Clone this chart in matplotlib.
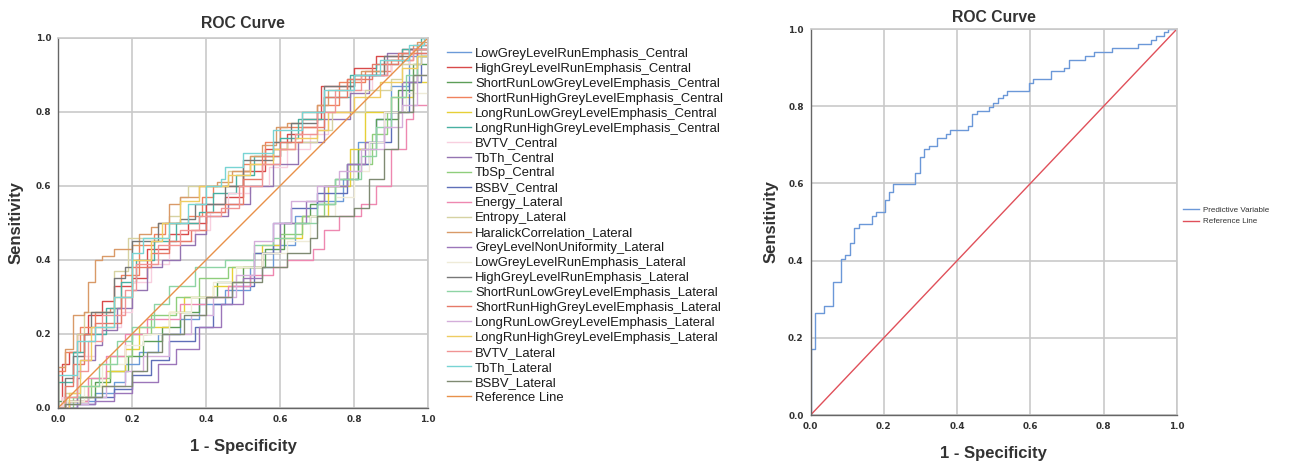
import numpy as np
import matplotlib
matplotlib.use("Agg")
import matplotlib.pyplot as plt

plt.rcParams['font.family'] = ['Liberation Sans', 'DejaVu Sans']

# ROC step points (1 - specificity, sensitivity), left chart
roc_lgre_c = [(0, 0), (0.02, 0.01), (0.05, 0.02), (0.10, 0.04), (0.15, 0.07), (0.18, 0.12), (0.22, 0.15), (0.27, 0.20),
              (0.33, 0.24), (0.38, 0.28), (0.45, 0.32), (0.52, 0.38), (0.58, 0.44), (0.64, 0.52), (0.70, 0.56),
              (0.77, 0.62), (0.81, 0.72), (0.86, 0.78), (0.90, 0.87), (0.95, 0.95), (0.97, 0.98), (1, 1)]
roc_hgre_c = [(0, 0), (0.01, 0.12), (0.03, 0.15), (0.05, 0.20), (0.08, 0.25), (0.12, 0.29), (0.15, 0.33), (0.20, 0.35),
              (0.24, 0.43), (0.30, 0.47), (0.35, 0.50), (0.40, 0.55), (0.45, 0.57), (0.50, 0.64), (0.56, 0.70),
              (0.62, 0.74), (0.66, 0.78), (0.71, 0.87), (0.80, 0.92), (0.86, 0.95), (0.93, 0.97), (1, 1)]
roc_srlge_c = [(0, 0), (0, 0.02), (0.05, 0.03), (0.10, 0.07), (0.14, 0.10), (0.19, 0.14), (0.23, 0.18), (0.28, 0.22),
               (0.33, 0.26), (0.38, 0.30), (0.43, 0.34), (0.50, 0.38), (0.56, 0.43), (0.61, 0.50), (0.68, 0.55),
               (0.75, 0.62), (0.81, 0.70), (0.86, 0.78), (0.92, 0.86), (0.96, 0.93), (1, 1)]
roc_srhge_c = [(0, 0), (0, 0.10), (0.02, 0.15), (0.06, 0.22), (0.10, 0.26), (0.14, 0.27), (0.17, 0.36), (0.22, 0.44),
               (0.26, 0.47), (0.29, 0.50), (0.35, 0.52), (0.39, 0.57), (0.42, 0.60), (0.50, 0.66), (0.56, 0.72),
               (0.60, 0.76), (0.70, 0.82), (0.76, 0.88), (0.83, 0.91), (0.90, 0.94), (0.96, 0.98), (1, 1)]
roc_lrlge_c = [(0, 0), (0.03, 0.02), (0.08, 0.06), (0.13, 0.10), (0.18, 0.16), (0.22, 0.22), (0.30, 0.26), (0.34, 0.30),
               (0.42, 0.33), (0.47, 0.38), (0.55, 0.44), (0.60, 0.46), (0.66, 0.52), (0.73, 0.60), (0.79, 0.70),
               (0.83, 0.80), (0.90, 0.84), (0.96, 0.88), (1, 0.90), (1, 1)]
roc_lrhge_c = [(0, 0), (0, 0.07), (0.04, 0.15), (0.07, 0.20), (0.13, 0.27), (0.17, 0.34), (0.21, 0.40), (0.26, 0.45),
               (0.32, 0.50), (0.38, 0.53), (0.42, 0.58), (0.48, 0.63), (0.53, 0.68), (0.60, 0.73), (0.65, 0.78),
               (0.72, 0.84), (0.79, 0.90), (0.86, 0.93), (0.93, 0.97), (0.98, 1), (1, 1)]
roc_bvtv_c = [(0, 0), (0.01, 0.03), (0.05, 0.14), (0.10, 0.22), (0.17, 0.26), (0.20, 0.34), (0.25, 0.39), (0.30, 0.45),
              (0.37, 0.48), (0.41, 0.53), (0.46, 0.58), (0.52, 0.60), (0.57, 0.65), (0.62, 0.70), (0.68, 0.74),
              (0.73, 0.80), (0.79, 0.86), (0.85, 0.90), (0.90, 0.93), (0.95, 0.97), (1, 1)]
roc_tbth_c = [(0, 0), (0.03, 0.02), (0.05, 0.08), (0.06, 0.13), (0.10, 0.17), (0.12, 0.21), (0.16, 0.27), (0.20, 0.32),
              (0.24, 0.38), (0.28, 0.40), (0.33, 0.44), (0.37, 0.47), (0.40, 0.52), (0.46, 0.55), (0.52, 0.60),
              (0.58, 0.66), (0.65, 0.72), (0.72, 0.78), (0.79, 0.85), (0.84, 0.90), (0.89, 0.96), (0.95, 0.97), (1, 1)]
roc_tbsp_c = [(0, 0), (0.04, 0.03), (0.09, 0.08), (0.14, 0.14), (0.20, 0.20), (0.25, 0.25), (0.32, 0.30), (0.38, 0.35),
              (0.46, 0.38), (0.53, 0.42), (0.60, 0.47), (0.66, 0.52), (0.72, 0.60), (0.78, 0.66), (0.85, 0.74),
              (0.89, 0.80), (0.93, 0.88), (0.97, 0.95), (1, 1)]
roc_bsbv_c = [(0, 0), (0.05, 0.01), (0.10, 0.03), (0.15, 0.05), (0.20, 0.09), (0.25, 0.13), (0.30, 0.18), (0.37, 0.22),
              (0.42, 0.28), (0.47, 0.33), (0.53, 0.42), (0.58, 0.50), (0.63, 0.54), (0.70, 0.58), (0.78, 0.66),
              (0.84, 0.72), (0.90, 0.80), (0.95, 0.88), (0.98, 0.95), (1, 1)]
roc_energy_l = [(0, 0), (0.03, 0.02), (0.08, 0.08), (0.13, 0.14), (0.18, 0.20), (0.24, 0.24), (0.33, 0.28), (0.40, 0.30),
                (0.46, 0.33), (0.52, 0.36), (0.58, 0.38), (0.62, 0.40), (0.69, 0.43), (0.72, 0.48), (0.76, 0.52),
                (0.82, 0.55), (0.86, 0.60), (0.90, 0.70), (0.94, 0.78), (0.96, 0.82), (1, 1)]
roc_entropy_l = [(0, 0), (0.02, 0.04), (0.05, 0.20), (0.07, 0.26), (0.15, 0.37), (0.19, 0.46), (0.30, 0.52), (0.33, 0.57),
                 (0.35, 0.60), (0.46, 0.64), (0.52, 0.68), (0.58, 0.70), (0.62, 0.72), (0.70, 0.75), (0.74, 0.80),
                 (0.83, 0.86), (0.90, 0.89), (0.93, 0.93), (0.98, 0.97), (1, 1)]
roc_haralick_l = [(0, 0), (0, 0.11), (0.02, 0.16), (0.04, 0.25), (0.07, 0.26), (0.08, 0.34), (0.10, 0.40), (0.12, 0.41),
                  (0.15, 0.43), (0.20, 0.44), (0.22, 0.47), (0.25, 0.49), (0.27, 0.50), (0.30, 0.55), (0.33, 0.57),
                  (0.38, 0.60), (0.43, 0.61), (0.47, 0.64), (0.52, 0.68), (0.55, 0.71), (0.59, 0.76), (0.62, 0.77),
                  (0.66, 0.80), (0.70, 0.82), (0.73, 0.86), (0.78, 0.89), (0.82, 0.91), (0.88, 0.94), (0.93, 0.96),
                  (0.97, 0.99), (1, 1)]
roc_glnu_l = [(0, 0), (0.05, 0.01), (0.10, 0.02), (0.15, 0.04), (0.20, 0.07), (0.27, 0.12), (0.32, 0.16), (0.38, 0.22),
              (0.44, 0.28), (0.50, 0.35), (0.55, 0.42), (0.60, 0.50), (0.67, 0.56), (0.72, 0.60), (0.78, 0.66),
              (0.83, 0.72), (0.88, 0.80), (0.93, 0.88), (0.97, 0.96), (1, 1)]
roc_lgre_l = [(0, 0), (0.02, 0.02), (0.07, 0.06), (0.12, 0.12), (0.18, 0.17), (0.23, 0.20), (0.30, 0.26), (0.36, 0.30),
              (0.42, 0.34), (0.48, 0.38), (0.55, 0.42), (0.62, 0.45), (0.68, 0.52), (0.75, 0.57), (0.80, 0.64),
              (0.84, 0.72), (0.88, 0.80), (0.94, 0.85), (1, 1)]
roc_hgre_l = [(0, 0), (0.02, 0.08), (0.04, 0.14), (0.07, 0.20), (0.09, 0.26), (0.15, 0.35), (0.18, 0.38), (0.20, 0.45),
              (0.27, 0.50), (0.33, 0.51), (0.37, 0.55), (0.45, 0.60), (0.50, 0.67), (0.58, 0.72), (0.63, 0.77),
              (0.70, 0.80), (0.72, 0.87), (0.80, 0.90), (0.88, 0.95), (0.95, 0.97), (1, 1)]
roc_srlge_l = [(0, 0), (0.02, 0.03), (0.06, 0.06), (0.11, 0.12), (0.16, 0.18), (0.20, 0.22), (0.26, 0.28), (0.30, 0.33),
               (0.37, 0.38), (0.45, 0.40), (0.53, 0.44), (0.58, 0.46), (0.64, 0.50), (0.70, 0.55), (0.75, 0.62),
               (0.82, 0.68), (0.86, 0.76), (0.90, 0.84), (0.94, 0.90), (0.97, 0.95), (1, 1)]
roc_srhge_l = [(0, 0), (0.02, 0.06), (0.04, 0.12), (0.07, 0.20), (0.10, 0.23), (0.17, 0.30), (0.20, 0.38), (0.25, 0.42),
               (0.30, 0.45), (0.36, 0.48), (0.40, 0.53), (0.45, 0.55), (0.50, 0.62), (0.55, 0.68), (0.60, 0.72),
               (0.66, 0.76), (0.72, 0.84), (0.78, 0.89), (0.85, 0.93), (0.92, 0.96), (1, 1)]
roc_lrlge_l = [(0, 0), (0.03, 0.01), (0.08, 0.03), (0.13, 0.06), (0.18, 0.10), (0.23, 0.14), (0.30, 0.20), (0.36, 0.25),
               (0.42, 0.30), (0.48, 0.36), (0.53, 0.45), (0.58, 0.50), (0.63, 0.56), (0.70, 0.60), (0.76, 0.64),
               (0.82, 0.70), (0.88, 0.76), (0.93, 0.82), (0.97, 0.90), (1, 1)]
roc_lrhge_l = [(0, 0), (0.03, 0.04), (0.06, 0.13), (0.09, 0.22), (0.15, 0.30), (0.20, 0.40), (0.25, 0.45), (0.28, 0.50),
               (0.33, 0.56), (0.38, 0.60), (0.46, 0.63), (0.52, 0.66), (0.58, 0.70), (0.64, 0.73), (0.70, 0.75),
               (0.73, 0.80), (0.80, 0.84), (0.87, 0.88), (0.93, 0.92), (0.97, 0.95), (1, 1)]
roc_bvtv_l = [(0, 0), (0.02, 0.03), (0.05, 0.10), (0.08, 0.18), (0.12, 0.25), (0.18, 0.32), (0.21, 0.39), (0.27, 0.44),
              (0.33, 0.48), (0.38, 0.52), (0.44, 0.54), (0.49, 0.60), (0.55, 0.66), (0.60, 0.70), (0.64, 0.74),
              (0.70, 0.80), (0.75, 0.86), (0.82, 0.90), (0.89, 0.94), (0.96, 0.97), (1, 1)]
roc_tbth_l = [(0, 0), (0, 0.09), (0.05, 0.18), (0.10, 0.22), (0.15, 0.30), (0.20, 0.42), (0.23, 0.46), (0.30, 0.50),
              (0.35, 0.55), (0.40, 0.60), (0.44, 0.62), (0.45, 0.65), (0.50, 0.69), (0.58, 0.75), (0.66, 0.80),
              (0.72, 0.86), (0.80, 0.90), (0.87, 0.94), (0.95, 0.98), (0.99, 1), (1, 1)]
roc_bsbv_l = [(0, 0), (0.02, 0.01), (0.06, 0.03), (0.12, 0.06), (0.20, 0.10), (0.24, 0.15), (0.28, 0.20), (0.34, 0.25),
              (0.40, 0.30), (0.47, 0.34), (0.55, 0.38), (0.62, 0.42), (0.68, 0.46), (0.70, 0.52), (0.80, 0.54),
              (0.84, 0.62), (0.88, 0.70), (0.92, 0.80), (0.96, 0.90), (1, 0.95), (1, 1)]
ref_line = [(0, 0), (1, 1)]

curve_data = [roc_lgre_c, roc_hgre_c, roc_srlge_c, roc_srhge_c, roc_lrlge_c, roc_lrhge_c, roc_bvtv_c, roc_tbth_c,
              roc_tbsp_c, roc_bsbv_c, roc_energy_l, roc_entropy_l, roc_haralick_l, roc_glnu_l, roc_lgre_l,
              roc_hgre_l, roc_srlge_l, roc_srhge_l, roc_lrlge_l, roc_lrhge_l, roc_bvtv_l, roc_tbth_l, roc_bsbv_l]
curve_names = ['LowGreyLevelRunEmphasis_Central', 'HighGreyLevelRunEmphasis_Central',
               'ShortRunLowGreyLevelEmphasis_Central', 'ShortRunHighGreyLevelEmphasis_Central',
               'LongRunLowGreyLevelEmphasis_Central', 'LongRunHighGreyLevelEmphasis_Central',
               'BVTV_Central', 'TbTh_Central', 'TbSp_Central', 'BSBV_Central', 'Energy_Lateral', 'Entropy_Lateral',
               'HaralickCorrelation_Lateral', 'GreyLevelNonUniformity_Lateral', 'LowGreyLevelRunEmphasis_Lateral',
               'HighGreyLevelRunEmphasis_Lateral', 'ShortRunLowGreyLevelEmphasis_Lateral',
               'ShortRunHighGreyLevelEmphasis_Lateral', 'LongRunLowGreyLevelEmphasis_Lateral',
               'LongRunHighGreyLevelEmphasis_Lateral', 'BVTV_Lateral', 'TbTh_Lateral', 'BSBV_Lateral']
curve_colors = ['#6b9ad8', '#d84a4a', '#5c9e58', '#f0825e', '#e6d036', '#48b0a2', '#f8cfdf', '#9474b2',
                '#8fce7c', '#5f6fb8', '#ee88b0', '#d6d2a2', '#d99a68', '#9c76ba', '#efebd8', '#777777',
                '#8ed4a4', '#e67a68', '#d4aeda', '#efcc62', '#f09494', '#78d4d4', '#7f8a72']
ref_color = '#e8914a'

# right chart: single predictive variable
roc_pred = [(0, 0), (0, 0.171), (0.012, 0.263), (0.036, 0.283), (0.06, 0.344), (0.083, 0.404), (0.095, 0.415),
            (0.107, 0.445), (0.119, 0.485), (0.132, 0.496), (0.167, 0.516), (0.179, 0.526), (0.203, 0.557),
            (0.215, 0.577), (0.226, 0.598), (0.286, 0.628), (0.298, 0.669), (0.31, 0.688), (0.322, 0.698),
            (0.346, 0.718), (0.369, 0.728), (0.38, 0.739), (0.429, 0.749), (0.441, 0.779), (0.454, 0.788),
            (0.488, 0.799), (0.499, 0.809), (0.512, 0.82), (0.524, 0.829), (0.535, 0.839), (0.596, 0.859),
            (0.607, 0.87), (0.655, 0.89), (0.692, 0.9), (0.705, 0.92), (0.75, 0.93), (0.775, 0.94), (0.822, 0.95),
            (0.894, 0.961), (0.93, 0.971), (0.942, 0.981), (0.965, 0.991), (0.977, 1.0), (1.0, 1.0)]
ticks = [0.0, 0.2, 0.4, 0.6, 0.8, 1.0]

text_col = '#333333'
grid_col = '#c9c9c9'


def style_axes(ax, ylab_x, xlab_y, title_pad):
    ax.set_xlim(0, 1)
    ax.set_ylim(0, 1)
    ax.set_xticks(ticks)
    ax.set_yticks(ticks)
    ax.set_xticklabels(['%.1f' % t for t in ticks])
    ax.set_yticklabels(['%.1f' % t for t in ticks])
    ax.grid(True, color=grid_col, lw=1.2)
    ax.set_axisbelow(True)
    ax.tick_params(length=0, labelsize=6.4, labelcolor=text_col, pad=5)
    for lab in ax.get_xticklabels() + ax.get_yticklabels():
        lab.set_fontweight('bold')
        lab.set_family('DejaVu Sans')
    for s in ['top', 'right']:
        ax.spines[s].set_color(grid_col)
        ax.spines[s].set_linewidth(1.2)
    for s in ['left', 'bottom']:
        ax.spines[s].set_color('#666666')
        ax.spines[s].set_linewidth(1.0)
    ax.set_title('ROC Curve', fontsize=11.3, fontweight='bold', color=text_col, pad=title_pad)
    ax.set_xlabel('1 - Specificity', fontsize=12, fontweight='bold', color=text_col)
    ax.set_ylabel('Sensitivity', fontsize=12, fontweight='bold', color=text_col)
    ax.xaxis.set_label_coords(0.5, xlab_y)
    ax.yaxis.set_label_coords(ylab_x, 0.5)


fig = plt.figure(figsize=(13.1, 4.62), dpi=100)
ax1 = fig.add_axes([0.0443, 0.1169, 0.2824, 0.8009])
ax2 = fig.add_axes([0.6188, 0.1017, 0.2796, 0.8355])

for pts, name, col in zip(curve_data, curve_names, curve_colors):
    xy = np.array(pts)
    ax1.plot(xy[:, 0], xy[:, 1], drawstyle='steps-post', color=col, lw=1.0, label=name)
ref = np.array(ref_line)
ax1.plot(ref[:, 0], ref[:, 1], color=ref_color, lw=1.0, label='Reference Line')
style_axes(ax1, -0.092, -0.084, 7)
ax1.legend(loc='upper left', bbox_to_anchor=(0.3412, 0.897), bbox_transform=fig.transFigure, frameon=False,
           fontsize=9.4, handlelength=1.85, handletextpad=0.3, labelspacing=0.216, borderpad=0, borderaxespad=0,
           labelcolor='#1a1a1a')

xy = np.array(roc_pred)
ax2.plot(xy[:, 0], xy[:, 1], drawstyle='steps-post', color='#6b98d8', lw=1.0, label='Predictive Variable')
ax2.plot(ref[:, 0], ref[:, 1], color='#e0505a', lw=1.0, label='Reference Line')
style_axes(ax2, -0.088, -0.080, 5)
ax2.legend(loc='upper left', bbox_to_anchor=(0.9028, 0.553), bbox_transform=fig.transFigure, frameon=False,
           fontsize=5.8, handlelength=2.0, handletextpad=0.5, labelspacing=0.46, borderpad=0, borderaxespad=0,
           labelcolor='#333333')

fig.savefig('out.png', dpi=100)
